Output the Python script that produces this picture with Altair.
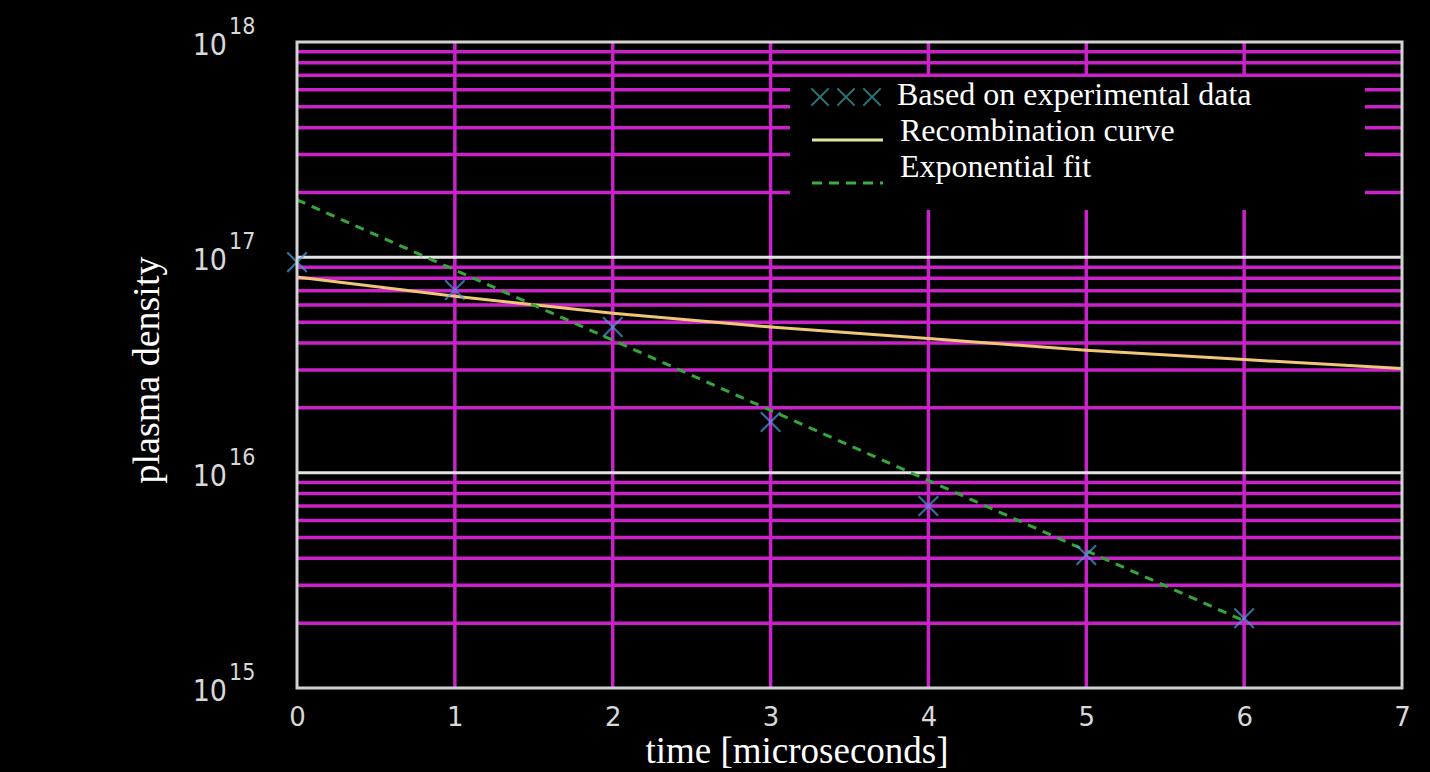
import altair as alt
import pandas as pd

# ---------------- data ----------------
time_exp = [0, 1, 2, 3, 4, 5, 6]
density_exp = [9.5e16, 7.05e16, 4.75e16, 1.72e16, 7.0e15, 4.15e15, 2.11e15]

time_rec = [0, 1, 2, 3, 4, 5, 6, 7]
density_rec = [8.1e16, 6.6e16, 5.5e16, 4.75e16, 4.2e16, 3.7e16, 3.35e16, 3.05e16]

time_fit = [0, 6]
density_fit = [1.85e17, 2.05e15]

x_ticks = [0, 1, 2, 3, 4, 5, 6, 7]
x_grid = [1, 2, 3, 4, 5, 6]
y_decades = [15, 16, 17, 18]
y_major_grid = [1e16, 1e17]
y_minor_grid = [2e15, 3e15, 4e15, 5e15, 6e15, 7e15, 8e15, 9e15,
                2e16, 3e16, 4e16, 5e16, 6e16, 7e16, 8e16, 9e16,
                2e17, 3e17, 4e17, 5e17, 6e17, 7e17, 8e17, 9e17]

legend_labels = ["Based on experimental data", "Recombination curve", "Exponential fit"]
x_title = "time [microseconds]"
y_title = "plasma density"

# ---------------- layout ----------------
W, H = 1105, 646
MAGENTA = "#c822c8"
LIGHT = "#d8d8d8"

df_exp = pd.DataFrame({"t": time_exp, "n": density_exp})
df_rec = pd.DataFrame({"t": time_rec, "n": density_rec})
df_fit = pd.DataFrame({"t": time_fit, "n": density_fit})
df_xgrid = pd.DataFrame({"t": x_grid})
df_minor = pd.DataFrame({"n": y_minor_grid})
df_major = pd.DataFrame({"n": y_major_grid})
df_ylab = pd.DataFrame({"n": [10.0 ** e for e in y_decades],
                        "base": ["10"] * len(y_decades),
                        "sup": [str(e) for e in y_decades]})
one = pd.DataFrame({"a": [0]})

xaxis = alt.Axis(values=x_ticks, grid=False, ticks=False, domain=False,
                 labelFont="DejaVu Sans", labelFontSize=26, labelColor=LIGHT,
                 labelPadding=16, format="d", title=None, labelFlush=False)
X = alt.X("t:Q", scale=alt.Scale(domain=[0, 7], nice=False, zero=False), axis=xaxis)
Y = alt.Y("n:Q", scale=alt.Scale(type="log", domain=[1e15, 1e18], nice=False), axis=None)

layers = []

# grid
layers.append(alt.Chart(df_minor).mark_rule(color=MAGENTA, strokeWidth=3.5).encode(y=Y))
layers.append(alt.Chart(df_xgrid).mark_rule(color=MAGENTA, strokeWidth=3.5).encode(x=X))
layers.append(alt.Chart(df_major).mark_rule(color="#e4e4e4", strokeWidth=3).encode(y=Y))

# legend box (covers the grid)
layers.append(alt.Chart(one).mark_rect(color="black").encode(
    x=alt.value(493), x2=alt.value(1068), y=alt.value(35), y2=alt.value(168)))

# data
layers.append(alt.Chart(df_rec).mark_line(color="#efc777", strokeWidth=3).encode(x=X, y=Y))
layers.append(alt.Chart(df_fit).mark_line(color="#36a63a", strokeWidth=3,
                                          strokeDash=[9, 7]).encode(x=X, y=Y))
layers.append(alt.Chart(df_exp).mark_point(shape="M-1,-1L1,1M-1,1L1,-1", filled=False,
                                           size=380, strokeWidth=2.2,
                                           color="#4e9ce0").encode(x=X, y=Y))

# legend content
for cx in (523, 549, 575):
    layers.append(alt.Chart(one).mark_point(shape="M-1,-1L1,1M-1,1L1,-1", filled=False,
                                            size=300, strokeWidth=2, color="#3aacac").encode(
        x=alt.value(cx), y=alt.value(55)))
layers.append(alt.Chart(one).mark_rule(color="#e6e2a0", strokeWidth=3).encode(
    x=alt.value(515), x2=alt.value(586), y=alt.value(98)))
layers.append(alt.Chart(one).mark_rule(color="#3cae3c", strokeWidth=3, strokeDash=[10, 7]).encode(
    x=alt.value(515), x2=alt.value(586), y=alt.value(141)))
for lab, lx, ly in zip(legend_labels, (600, 603, 603), (63, 99, 135)):
    layers.append(alt.Chart(one).mark_text(text=lab, font="Liberation Serif", fontSize=32,
                                           color="white", align="left",
                                           baseline="alphabetic").encode(
        x=alt.value(lx), y=alt.value(ly)))

# frame
layers.append(alt.Chart(one).mark_rect(fillOpacity=0, stroke="#d2d2d2", strokeWidth=3).encode(
    x=alt.value(0), x2=alt.value(W), y=alt.value(0), y2=alt.value(H)))

# y tick labels 10^k
layers.append(alt.Chart(df_ylab).mark_text(font="DejaVu Sans Condensed, DejaVu Sans", fontSize=30,
                                           color=LIGHT, align="right", baseline="middle",
                                           dy=4).encode(
    x=alt.value(-70), y=Y, text="base:N"))
layers.append(alt.Chart(df_ylab).mark_text(font="DejaVu Sans Condensed, DejaVu Sans", fontSize=23,
                                           color=LIGHT, align="left", baseline="middle",
                                           dy=-15).encode(
    x=alt.value(-68), y=Y, text="sup:N"))

# axis titles
layers.append(alt.Chart(one).mark_text(text=x_title, font="Liberation Serif", fontSize=37,
                                       color="white", align="center",
                                       baseline="alphabetic").encode(
    x=alt.value(500), y=alt.value(721)))
layers.append(alt.Chart(one).mark_text(text=y_title, font="Liberation Serif", fontSize=38,
                                       color="white", align="center", baseline="middle",
                                       angle=270).encode(
    x=alt.value(-149), y=alt.value(328)))

chart = alt.layer(*layers).properties(
    width=W, height=H,
    padding={"left": 297, "top": 42, "right": 28, "bottom": 84},
    autosize=alt.AutoSizeParams(type="none"),
    background="black",
).configure_view(strokeWidth=0)

chart.save("out.html", embed_options={"renderer": "svg", "actions": False})
